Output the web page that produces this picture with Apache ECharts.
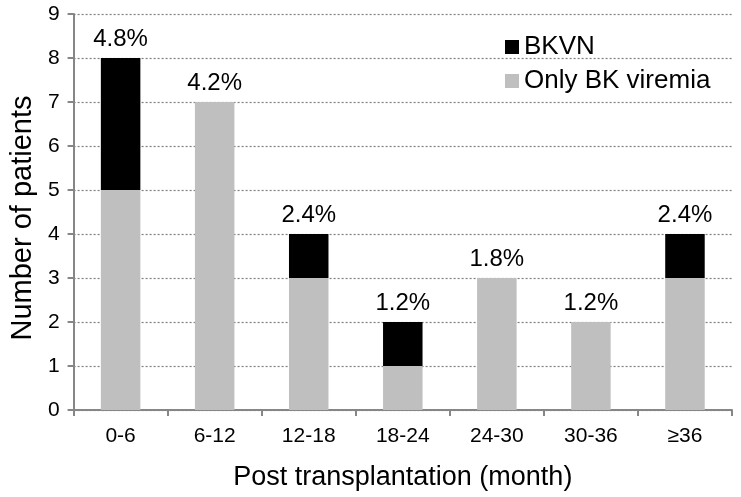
<!DOCTYPE html>
<html>
<head>
<meta charset="utf-8">
<script src="https://cdn.jsdelivr.net/npm/echarts@6/dist/echarts.min.js"></script>
<style>html,body{margin:0;padding:0;background:#fff;}#c{width:741px;height:497px;}</style>
</head>
<body>
<div id="c"></div>
<script>
var categories = ['0-6', '6-12', '12-18', '18-24', '24-30', '30-36', '≥36'];
var onlyViremia = [5, 7, 3, 1, 3, 2, 3];
var bkvn = [3, 0, 1, 1, 0, 0, 1];
var percentLabels = ['4.8%', '4.2%', '2.4%', '1.2%', '1.8%', '1.2%', '2.4%'];
var yTicks = [0, 1, 2, 3, 4, 5, 6, 7, 8, 9];

var font = 'Liberation Sans, Arial, sans-serif';
var chart = echarts.init(document.getElementById('c'));
chart.setOption({
  animation: false,
  textStyle: { fontFamily: font },
  grid: { left: 69, right: 9, top: 14, bottom: 87 },
  legend: {
    data: ['BKVN', 'Only BK viremia'],
    orient: 'vertical',
    left: 500, top: 29,
    itemWidth: 14, itemHeight: 14, itemGap: 8,
    icon: 'rect',
    textStyle: { fontSize: 26, color: '#000', fontFamily: font }
  },
  xAxis: {
    type: 'category',
    data: categories,
    name: 'Post transplantation (month)',
    nameLocation: 'middle',
    nameGap: 54,
    nameTextStyle: { fontSize: 27, color: '#000', fontFamily: font },
    axisLine: { lineStyle: { color: '#868686', width: 2 } },
    axisTick: { show: true, length: 6, lineStyle: { color: '#868686', width: 2 } },
    axisLabel: { fontSize: 21, color: '#000', margin: 16, fontFamily: font }
  },
  yAxis: {
    type: 'value',
    min: 0, max: 9, interval: 1,
    name: 'Number of patients',
    nameLocation: 'middle',
    nameGap: 35,
    nameTextStyle: { fontSize: 29, color: '#000', fontFamily: font, padding: [0, 12, 0, 0] },
    axisLine: { show: true, lineStyle: { color: '#868686', width: 2 } },
    axisTick: { show: true, length: 6, lineStyle: { color: '#868686', width: 2 } },
    axisLabel: { fontSize: 21, color: '#000', margin: 14, fontFamily: font,
      formatter: function (v) { return yTicks.indexOf(v) >= 0 ? String(v) : ''; } },
    splitLine: { show: true, lineStyle: { color: '#7f7f7f', type: [2, 2], width: 1.2 } }
  },
  series: [
    {
      name: 'Only BK viremia', type: 'bar', stack: 'a',
      data: onlyViremia, barWidth: '42%',
      itemStyle: { color: '#BFBFBF' }
    },
    {
      name: 'BKVN', type: 'bar', stack: 'a',
      data: bkvn, barWidth: '42%',
      itemStyle: { color: '#000000' },
      label: {
        show: true, position: 'top', distance: 7,
        fontSize: 24, color: '#000', fontFamily: font,
        formatter: function (p) { return percentLabels[p.dataIndex]; }
      }
    }
  ]
});
</script>
</body>
</html>
